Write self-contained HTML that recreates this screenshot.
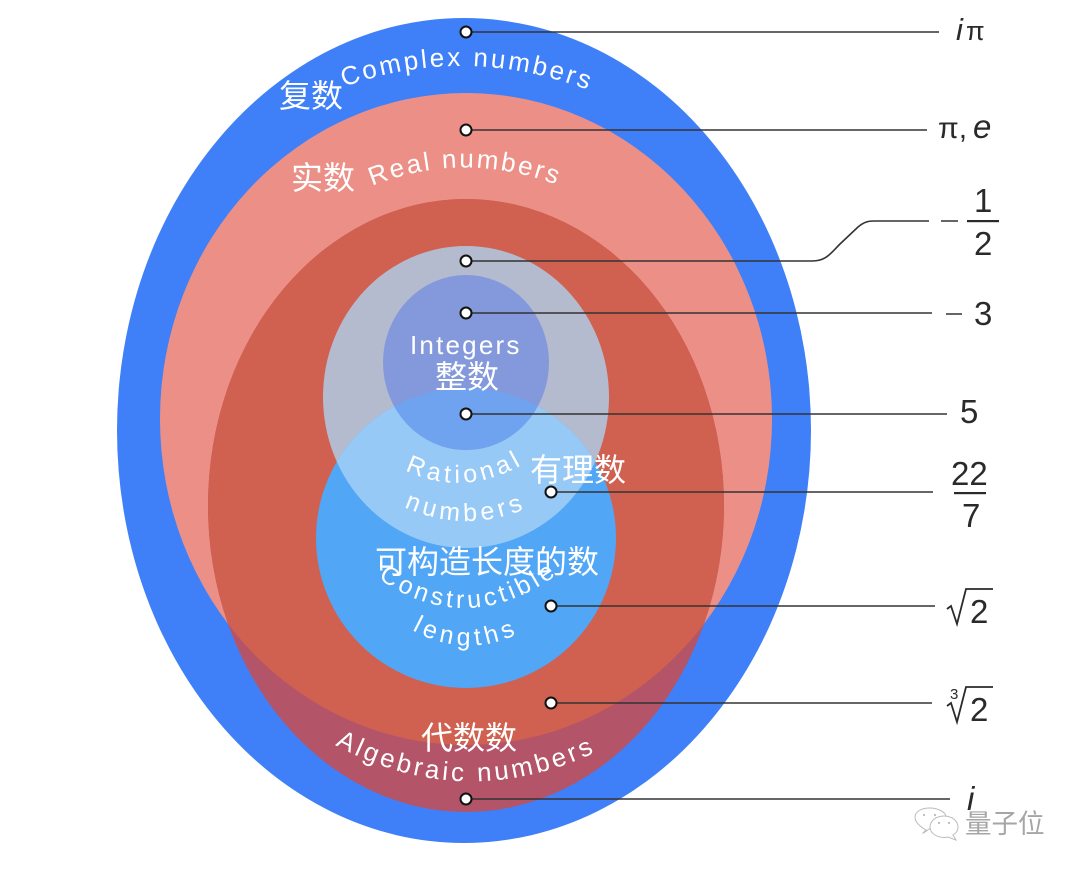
<!DOCTYPE html>
<html><head><meta charset="utf-8"><style>
html,body{margin:0;padding:0;background:#fff}
svg{display:block}
.w{fill:#fff;font-family:"Liberation Sans",sans-serif;font-size:26px}
.c{fill:#fff;font-family:"Liberation Sans","Noto Sans CJK SC",sans-serif;font-size:32px}
.m{fill:#2a2a2a;font-family:"Liberation Sans",sans-serif;font-size:33px}
.l{fill:none;stroke:#333;stroke-width:1.6}
.d{fill:#fff;stroke:#111;stroke-width:2}
</style></head><body>
<svg width="1080" height="871" viewBox="0 0 1080 871" xmlns="http://www.w3.org/2000/svg">
<defs>
<clipPath id="real"><ellipse cx="466" cy="419" rx="306" ry="326"/></clipPath>
<clipPath id="grey"><ellipse cx="466" cy="397" rx="143" ry="151"/></clipPath>
<clipPath id="int"><ellipse cx="466" cy="362.5" rx="83" ry="87.5"/></clipPath>
<clipPath id="con"><circle cx="466" cy="538" r="150"/></clipPath>
<path id="p1" d="M344 87 Q468 42 596 93 L630 108"/>
<path id="p2" d="M372 186 Q466 148 565 188 L590 200"/>
<path id="p3" d="M405 470 Q466 500 530 460 L550 445"/>
<path id="p4" d="M404 507 Q466 535 530 507 L550 495"/>
<path id="p5" d="M378 578 Q466 640 558 574 L575 558"/>
<path id="p6" d="M412 630 Q466 660 522 632 L540 620"/>
<path id="p7" d="M335 745 Q466 815 600 750 L630 732"/>
</defs>
<ellipse cx="464" cy="430.5" rx="347" ry="412.5" fill="#3f80f8"/>
<ellipse cx="466" cy="419" rx="306" ry="326" fill="#ec9087"/>
<ellipse cx="466" cy="505.5" rx="258" ry="306.5" fill="#b35468"/>
<g clip-path="url(#real)"><ellipse cx="466" cy="505.5" rx="258" ry="306.5" fill="#d06050"/></g>
<ellipse cx="466" cy="397" rx="143" ry="151" fill="#b5bbce"/>
<circle cx="466" cy="538" r="150" fill="#52a6f6"/>
<g clip-path="url(#grey)"><circle cx="466" cy="538" r="150" fill="#97c9f7"/></g>
<ellipse cx="466" cy="362.5" rx="83" ry="87.5" fill="#8499db"/>
<g clip-path="url(#int)"><circle cx="466" cy="538" r="150" fill="#6fa2ef"/></g>

<path class="l" d="M466 32H939M466 130H927M466 261H812C826 261 830 254 840 244L858 227C864 222 868 221 874 221H929M466 313H932M466 414H947M551 492H933M551 606H935M551 703H932M466 799H950"/>
<path class="l" d="M941 221H958M946 314H962"/>
<circle class="d" cx="466" cy="32" r="5.5"/>
<circle class="d" cx="466" cy="130" r="5.5"/>
<circle class="d" cx="466" cy="261" r="5.5"/>
<circle class="d" cx="466" cy="313" r="5.5"/>
<circle class="d" cx="466" cy="414" r="5.5"/>
<circle class="d" cx="551" cy="492" r="5.5"/>
<circle class="d" cx="551" cy="606" r="5.5"/>
<circle class="d" cx="551" cy="703" r="5.5"/>
<circle class="d" cx="466" cy="799" r="5.5"/>

<text class="c" x="279" y="107">复数</text>
<text class="c" x="291" y="189">实数</text>
<text class="c" x="435" y="388">整数</text>
<text class="c" x="530" y="481">有理数</text>
<text class="c" x="375" y="573">可构造长度的数</text>
<text class="c" x="421" y="749">代数数</text>

<text class="w" letter-spacing="2.7"><textPath href="#p1">Complex numbers</textPath></text>
<text class="w" letter-spacing="2.4"><textPath href="#p2">Real numbers</textPath></text>
<text class="w" letter-spacing="2.2" x="410" y="354">Integers</text>
<text class="w" letter-spacing="4.2" style="font-size:25px"><textPath href="#p3">Rational</textPath></text>
<text class="w" letter-spacing="4.3" style="font-size:25px"><textPath href="#p4">numbers</textPath></text>
<text class="w" letter-spacing="3.8" style="font-size:25px"><textPath href="#p5">Constructible</textPath></text>
<text class="w" letter-spacing="4.6" style="font-size:25px"><textPath href="#p6">lengths</textPath></text>
<text class="w" letter-spacing="3.3"><textPath href="#p7">Algebraic numbers</textPath></text>

<text class="m" x="956" y="40" font-style="italic" style="font-size:31px">i</text><text class="m" x="966" y="40" style="font-size:27px">π</text>
<text class="m" x="938" y="138" style="font-size:30px">π,</text><text class="m" x="973" y="138" font-style="italic">e</text>
<text class="m" x="974" y="212">1</text>
<rect x="967" y="220" width="32" height="2.2" fill="#2a2a2a"/>
<text class="m" x="974" y="255">2</text>
<text class="m" x="974" y="325">3</text>
<text class="m" x="960" y="423">5</text>
<text class="m" x="951" y="485">22</text>
<rect x="954" y="492" width="32" height="2.2" fill="#2a2a2a"/>
<text class="m" x="962" y="527">7</text>
<path d="M947 609L951 606L957 624L966 589H993" fill="none" stroke="#2a2a2a" stroke-width="1.8"/>
<text class="m" x="970" y="623">2</text>
<path d="M947 706L951 703L957 722L966 687H993" fill="none" stroke="#2a2a2a" stroke-width="1.8"/>
<text class="m" x="970" y="721">2</text>
<text x="950" y="699" font-size="15" font-family="Liberation Sans, sans-serif" fill="#2a2a2a">3</text>
<text class="m" x="967" y="810" font-style="italic">i</text>

<g fill="#fff" stroke="#bbb" stroke-width="1">
<path d="M926 830C919 826 915 822 915 817C915 812 921 808 930 808C938 808 945 812 946 816C937 817 931 822 931 828C928 829 925 833 923 833Z"/>
<path d="M944 816C952 816 958 821 958 827C958 831 956 833 953 835L956 840L948 837C939 839 930 834 930 827C930 821 936 816 944 816Z"/>
</g>
<g fill="#bbb"><circle cx="924" cy="815" r="1.1"/><circle cx="935" cy="815" r="1.1"/><circle cx="939" cy="823" r="1.1"/><circle cx="949" cy="823" r="1.1"/></g>
<text x="965" y="833" font-size="26.5" font-family="Liberation Sans,'Noto Sans CJK SC',sans-serif" fill="#a6a6a6">量子位</text>
</svg>
</body></html>
